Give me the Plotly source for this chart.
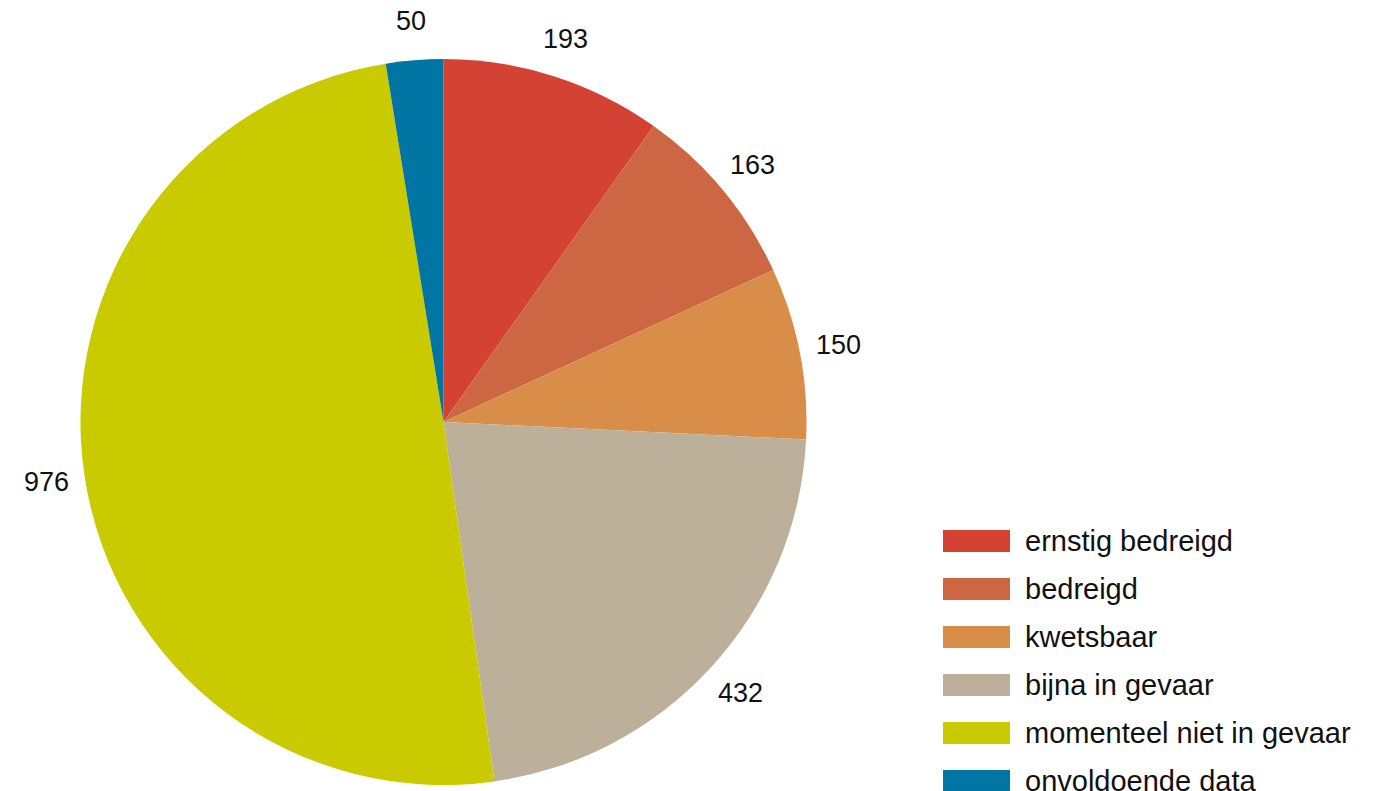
import math
import plotly.graph_objects as go

labels = ["ernstig bedreigd", "bedreigd", "kwetsbaar", "bijna in gevaar",
          "momenteel niet in gevaar", "onvoldoende data"]
values = [193, 163, 150, 432, 976, 50]
colors = ["#D44233", "#CD6643", "#D88E48", "#BCB09B", "#C9CB00", "#0074A3"]

W, H = 1375, 791
OFF = 8  # page body margin offset
cx, cy, R = 443.5 - OFF, 422 - OFF, 363  # pixel geometry of the pie

fig = go.Figure(go.Pie(
    labels=labels, values=values, sort=False, direction="clockwise", rotation=0,
    marker=dict(colors=colors, line=dict(width=0)),
    textinfo="none", hoverinfo="label+value", showlegend=False,
    domain=dict(x=[(cx - R) / W, (cx + R) / W], y=[(H - cy - R) / H, (H - cy + R) / H]),
))

annotations = []
total = sum(values)
cum = 0
for v in values:
    mid = (cum + v / 2) / total * 2 * math.pi
    cum += v
    r = R + 39
    px = cx + r * math.sin(mid)
    py = cy - r * math.cos(mid)
    annotations.append(dict(x=px / W, y=1 - py / H, xref="paper", yref="paper",
                            text=str(v), showarrow=False,
                            font=dict(size=27, color="#111111", family="Liberation Sans, Arial"),
                            xanchor="center", yanchor="middle"))

shapes = []
for i, (lab, col) in enumerate(zip(labels, colors)):
    top = 530 + 48 * i - OFF
    shapes.append(dict(type="rect", xref="paper", yref="paper",
                       x0=(943 - OFF) / W, x1=(1010 - OFF) / W,
                       y0=1 - (top + 22) / H, y1=1 - top / H,
                       fillcolor=col, line=dict(width=0)))
    annotations.append(dict(x=(1023 - OFF) / W, y=1 - (top + 11) / H, xref="paper", yref="paper",
                            text=lab, showarrow=False, xanchor="left", yanchor="middle",
                            font=dict(size=29, color="#111111", family="Liberation Sans, Arial")))

fig.update_layout(width=W, height=H, margin=dict(l=0, r=0, t=0, b=0),
                  paper_bgcolor="white", plot_bgcolor="white",
                  annotations=annotations, shapes=shapes)
fig.write_html("out.html")
